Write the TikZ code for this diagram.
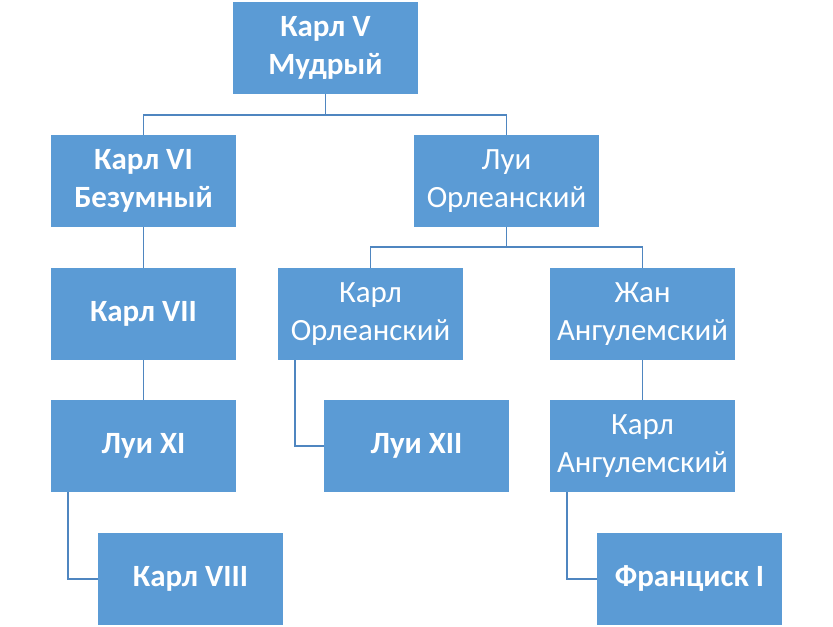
\documentclass[tikz,border=0pt]{standalone}
\usepackage{fontspec}
\setmainfont{Carlito}
\usetikzlibrary{positioning}

\definecolor{boxblue}{HTML}{5B9BD5}
\definecolor{linkblue}{HTML}{4F86C0}

\tikzset{
  person/.style = {fill=boxblue, text=white, align=center, inner sep=0pt,
                   minimum width=3.7cm, minimum height=1.84cm,
                   font=\fontsize{17.6}{21.5}\selectfont},
  king/.style = {person, font=\fontsize{17.6}{21.5}\selectfont\bfseries},
  link/.style = {linkblue, line width=1.1pt}
}

\begin{document}
\begin{tikzpicture}
 \useasboundingbox (0,0) rectangle (16.66,12.54);

 \node[king] (karlV) at (6.51,11.58) {Карл V\\Мудрый};

 \node[king] (karlVI) at (2.87,8.92) {Карл VI\\Безумный};
 \node[person] (luiOrl) at (10.13,8.92) {Луи\\Орлеанский};

 \node[king] (karlVII) at (2.87,6.26) {Карл VII};
 \node[person] (karlOrl) at (7.41,6.26) {Карл\\Орлеанский};
 \node[person] (zhanAng) at (12.85,6.26) {Жан\\Ангулемский};

 \node[king] (luiXI) at (2.87,3.62) {Луи XI};
 \node[king] (luiXII) at (8.33,3.62) {Луи XII};
 \node[person] (karlAng) at (12.85,3.62) {Карл\\Ангулемский};

 \node[king] (karlVIII) at (3.81,0.96) {Карл VIII};
 \node[king] (francisk) at (13.79,0.96) {Франциск I};

 % branching links
 \draw[link] (karlV.south) -- ++(0,-0.41) -| (karlVI.north);
 \draw[link] (karlV.south) -- ++(0,-0.41) -| (luiOrl.north);
 \draw[link] (luiOrl.south) -- ++(0,-0.40) -| (karlOrl.north);
 \draw[link] (luiOrl.south) -- ++(0,-0.40) -| (zhanAng.north);

 % straight links
 \draw[link] (karlVI.south) -- (karlVII.north);
 \draw[link] (karlVII.south) -- (luiXI.north);
 \draw[link] (zhanAng.south) -- (karlAng.north);

 % side links
 \draw[link] ([xshift=0.35cm]luiXI.south west) |- (karlVIII.west);
 \draw[link] ([xshift=0.34cm]karlOrl.south west) |- (luiXII.west);
 \draw[link] ([xshift=0.35cm]karlAng.south west) |- (francisk.west);
\end{tikzpicture}
\end{document}
